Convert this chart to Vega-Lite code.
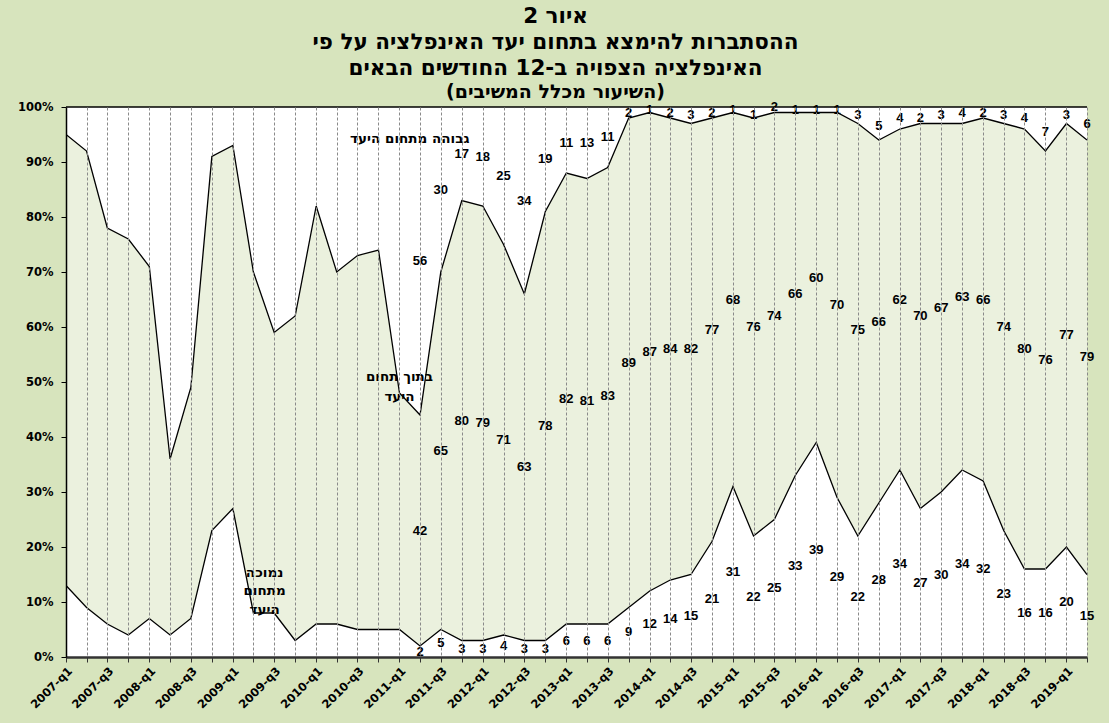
{
  "$schema": "https://vega.github.io/schema/vega-lite/v6.json",
  "width": 1021,
  "height": 550,
  "autosize": {"type": "none"},
  "padding": {"left": 66, "top": 107, "right": 22, "bottom": 66},
  "background": "#D7E4BD",
  "view": {"fill": "white", "stroke": null},
  "title": {
    "text": ["איור 2", "ההסתברות להימצא בתחום יעד האינפלציה על פי", "האינפלציה הצפויה ב-12 החודשים הבאים"],
    "subtitle": "(השיעור מכלל המשיבים)",
    "font": "DejaVu Sans",
    "fontSize": 21.5,
    "fontWeight": "bold",
    "color": "black",
    "lineHeight": 26,
    "subtitleFont": "DejaVu Sans",
    "subtitleFontSize": 19,
    "subtitleFontWeight": "bold",
    "subtitleColor": "black",
    "subtitlePadding": 4,
    "anchor": "middle",
    "frame": "group",
    "dx": -21,
    "offset": -1
  },
  "datasets": {
    "survey": [
      {"d": "2007/01/01", "low": 13, "mid": 82, "top": 5},
      {"d": "2007/04/01", "low": 9, "mid": 83, "top": 8},
      {"d": "2007/07/01", "low": 6, "mid": 72, "top": 22},
      {"d": "2007/10/01", "low": 4, "mid": 72, "top": 24},
      {"d": "2008/01/01", "low": 7, "mid": 64, "top": 29},
      {"d": "2008/04/01", "low": 4, "mid": 32, "top": 64},
      {"d": "2008/07/01", "low": 7, "mid": 42, "top": 51},
      {"d": "2008/10/01", "low": 23, "mid": 68, "top": 9},
      {"d": "2009/01/01", "low": 27, "mid": 66, "top": 7},
      {"d": "2009/04/01", "low": 8, "mid": 62, "top": 30},
      {"d": "2009/07/01", "low": 8, "mid": 51, "top": 41},
      {"d": "2009/10/01", "low": 3, "mid": 59, "top": 38},
      {"d": "2010/01/01", "low": 6, "mid": 76, "top": 18},
      {"d": "2010/04/01", "low": 6, "mid": 64, "top": 30},
      {"d": "2010/07/01", "low": 5, "mid": 68, "top": 27},
      {"d": "2010/10/01", "low": 5, "mid": 69, "top": 26},
      {"d": "2011/01/01", "low": 5, "mid": 43, "top": 52},
      {"d": "2011/04/01", "low": 2, "mid": 42, "top": 56},
      {"d": "2011/07/01", "low": 5, "mid": 65, "top": 30},
      {"d": "2011/10/01", "low": 3, "mid": 80, "top": 17},
      {"d": "2012/01/01", "low": 3, "mid": 79, "top": 18},
      {"d": "2012/04/01", "low": 4, "mid": 71, "top": 25},
      {"d": "2012/07/01", "low": 3, "mid": 63, "top": 34},
      {"d": "2012/10/01", "low": 3, "mid": 78, "top": 19},
      {"d": "2013/01/01", "low": 6, "mid": 82, "top": 11},
      {"d": "2013/04/01", "low": 6, "mid": 81, "top": 13},
      {"d": "2013/07/01", "low": 6, "mid": 83, "top": 11},
      {"d": "2013/10/01", "low": 9, "mid": 89, "top": 2},
      {"d": "2014/01/01", "low": 12, "mid": 87, "top": 1},
      {"d": "2014/04/01", "low": 14, "mid": 84, "top": 2},
      {"d": "2014/07/01", "low": 15, "mid": 82, "top": 3},
      {"d": "2014/10/01", "low": 21, "mid": 77, "top": 2},
      {"d": "2015/01/01", "low": 31, "mid": 68, "top": 1},
      {"d": "2015/04/01", "low": 22, "mid": 76, "top": 1},
      {"d": "2015/07/01", "low": 25, "mid": 74, "top": 2},
      {"d": "2015/10/01", "low": 33, "mid": 66, "top": 1},
      {"d": "2016/01/01", "low": 39, "mid": 60, "top": 1},
      {"d": "2016/04/01", "low": 29, "mid": 70, "top": 1},
      {"d": "2016/07/01", "low": 22, "mid": 75, "top": 3},
      {"d": "2016/10/01", "low": 28, "mid": 66, "top": 5},
      {"d": "2017/01/01", "low": 34, "mid": 62, "top": 4},
      {"d": "2017/04/01", "low": 27, "mid": 70, "top": 2},
      {"d": "2017/07/01", "low": 30, "mid": 67, "top": 3},
      {"d": "2017/10/01", "low": 34, "mid": 63, "top": 4},
      {"d": "2018/01/01", "low": 32, "mid": 66, "top": 2},
      {"d": "2018/04/01", "low": 23, "mid": 74, "top": 3},
      {"d": "2018/07/01", "low": 16, "mid": 80, "top": 4},
      {"d": "2018/10/01", "low": 16, "mid": 76, "top": 7},
      {"d": "2019/01/01", "low": 20, "mid": 77, "top": 3},
      {"d": "2019/04/01", "low": 15, "mid": 79, "top": 6}
    ],
    "notes": [
      {"note": "high", "lbl": "גבוהה מתחום היעד"},
      {"note": "within", "lbl": "בתוך תחום היעד"},
      {"note": "low", "lbl": "נמוכה מתחום היעד"}
    ]
  },
  "layer": [
    {
      "data": {"name": "survey", "format": {"parse": {"d": "date"}}},
      "transform": [
        {"fold": ["low", "mid", "top"], "as": ["series", "value"]},
        {"stack": "value", "groupby": ["d"], "sort": [{"field": "series", "order": "ascending"}], "as": ["v0", "v1"]}
      ],
      "mark": {"type": "area", "clip": true},
      "encoding": {
        "x": {
          "field": "d",
          "type": "temporal",
          "scale": {"domain": [{"year": 2007, "month": 1, "date": 1}, {"year": 2019, "month": 4, "date": 1}], "nice": false},
          "axis": {
            "title": null,
            "grid": true,
            "gridDash": [3, 2],
            "gridColor": "#8a8a8a",
            "gridWidth": 1,
            "tickCount": {"interval": "month", "step": 3},
            "labelExpr": "month(datum.value) % 6 == 0 ? year(datum.value) + '-q' + (floor(month(datum.value) / 3) + 1) : ''",
            "labelAngle": -45,
            "labelFont": "DejaVu Sans",
            "labelFontSize": 11.5,
            "labelFontWeight": "bold",
            "labelColor": "black",
            "labelOverlap": false,
            "labelFlush": false,
            "labelBound": false,
            "labelPadding": 3,
            "domainColor": "#333333",
            "domainWidth": 2.5,
            "tickColor": "#333333",
            "tickSize": 5,
            "zindex": 1
          }
        },
        "y": {
          "field": "v1",
          "type": "quantitative",
          "scale": {"domain": [0, 100], "nice": false},
          "axis": {
            "title": null,
            "grid": false,
            "values": [0, 10, 20, 30, 40, 50, 60, 70, 80, 90, 100],
            "labelExpr": "datum.value + '%'",
            "labelFont": "DejaVu Sans",
            "labelFontSize": 11.5,
            "labelFontWeight": "bold",
            "labelColor": "black",
            "labelPadding": 8,
            "domainColor": "black",
            "domainWidth": 1.5,
            "tickColor": "black",
            "tickSize": 5,
            "zindex": 1
          }
        },
        "y2": {"field": "v0"},
        "color": {
          "field": "series",
          "type": "nominal",
          "scale": {"domain": ["low", "mid", "top"], "range": ["#FFFFFF", "#EBF1DE", "#FFFFFF"]},
          "legend": null
        }
      }
    },
    {
      "data": {"name": "survey", "format": {"parse": {"d": "date"}}},
      "transform": [
        {"fold": ["low", "mid", "top"], "as": ["series", "value"]},
        {"stack": "value", "groupby": ["d"], "sort": [{"field": "series", "order": "ascending"}], "as": ["v0", "v1"]},
        {"filter": "datum.series != 'top'"}
      ],
      "mark": {"type": "line", "color": "black", "strokeWidth": 1.3, "clip": true},
      "encoding": {
        "x": {"field": "d", "type": "temporal"},
        "y": {"field": "v1", "type": "quantitative"},
        "detail": {"field": "series", "type": "nominal"}
      }
    },
    {
      "data": {"values": [{}]},
      "mark": {"type": "rule", "color": "black", "strokeWidth": 1.5},
      "encoding": {"y": {"datum": 100}}
    },
    {
      "data": {"name": "survey", "format": {"parse": {"d": "date"}}},
      "transform": [
        {"fold": ["low", "mid", "top"], "as": ["series", "value"]},
        {"stack": "value", "groupby": ["d"], "sort": [{"field": "series", "order": "ascending"}], "as": ["v0", "v1"]},
        {"filter": "time(datum.d) >= time(datetime(2011, 3, 1))"},
        {"calculate": "(datum.v0 + datum.v1) / 2", "as": "vm"}
      ],
      "mark": {"type": "text", "font": "Liberation Sans", "fontSize": 13, "fontWeight": "bold", "color": "black", "baseline": "middle", "align": "center"},
      "encoding": {
        "x": {"field": "d", "type": "temporal"},
        "y": {"field": "vm", "type": "quantitative"},
        "text": {"field": "value", "type": "quantitative", "format": "d"}
      }
    },
    {
      "data": {"name": "notes"},
      "transform": [{"filter": "datum.note == 'high'"}],
      "mark": {"type": "text", "font": "DejaVu Sans", "fontSize": 13.5, "fontWeight": "bold", "color": "black", "baseline": "middle", "align": "center"},
      "encoding": {
        "x": {"datum": {"year": 2011, "month": 2, "date": 15}, "type": "temporal"},
        "y": {"datum": 94.2, "type": "quantitative"},
        "text": {"field": "lbl", "type": "nominal"}
      }
    },
    {
      "data": {"name": "notes"},
      "transform": [{"filter": "datum.note == 'within'"}],
      "mark": {"type": "text", "font": "DejaVu Sans", "fontSize": 13.5, "fontWeight": "bold", "color": "black", "baseline": "middle", "align": "center", "lineHeight": 20},
      "encoding": {
        "x": {"datum": {"year": 2011, "month": 1, "date": 1}, "type": "temporal"},
        "y": {"datum": 50.9, "type": "quantitative"},
        "text": {"value": ["בתוך תחום", "היעד"]}
      }
    },
    {
      "data": {"name": "notes"},
      "transform": [{"filter": "datum.note == 'low'"}],
      "mark": {"type": "text", "font": "DejaVu Sans", "fontSize": 13.5, "fontWeight": "bold", "color": "black", "baseline": "middle", "align": "center", "lineHeight": 18.5},
      "encoding": {
        "x": {"datum": {"year": 2009, "month": 5, "date": 20}, "type": "temporal"},
        "y": {"datum": 15.3, "type": "quantitative"},
        "text": {"value": ["נמוכה", "מתחום", "היעד"]}
      }
    }
  ]
}
